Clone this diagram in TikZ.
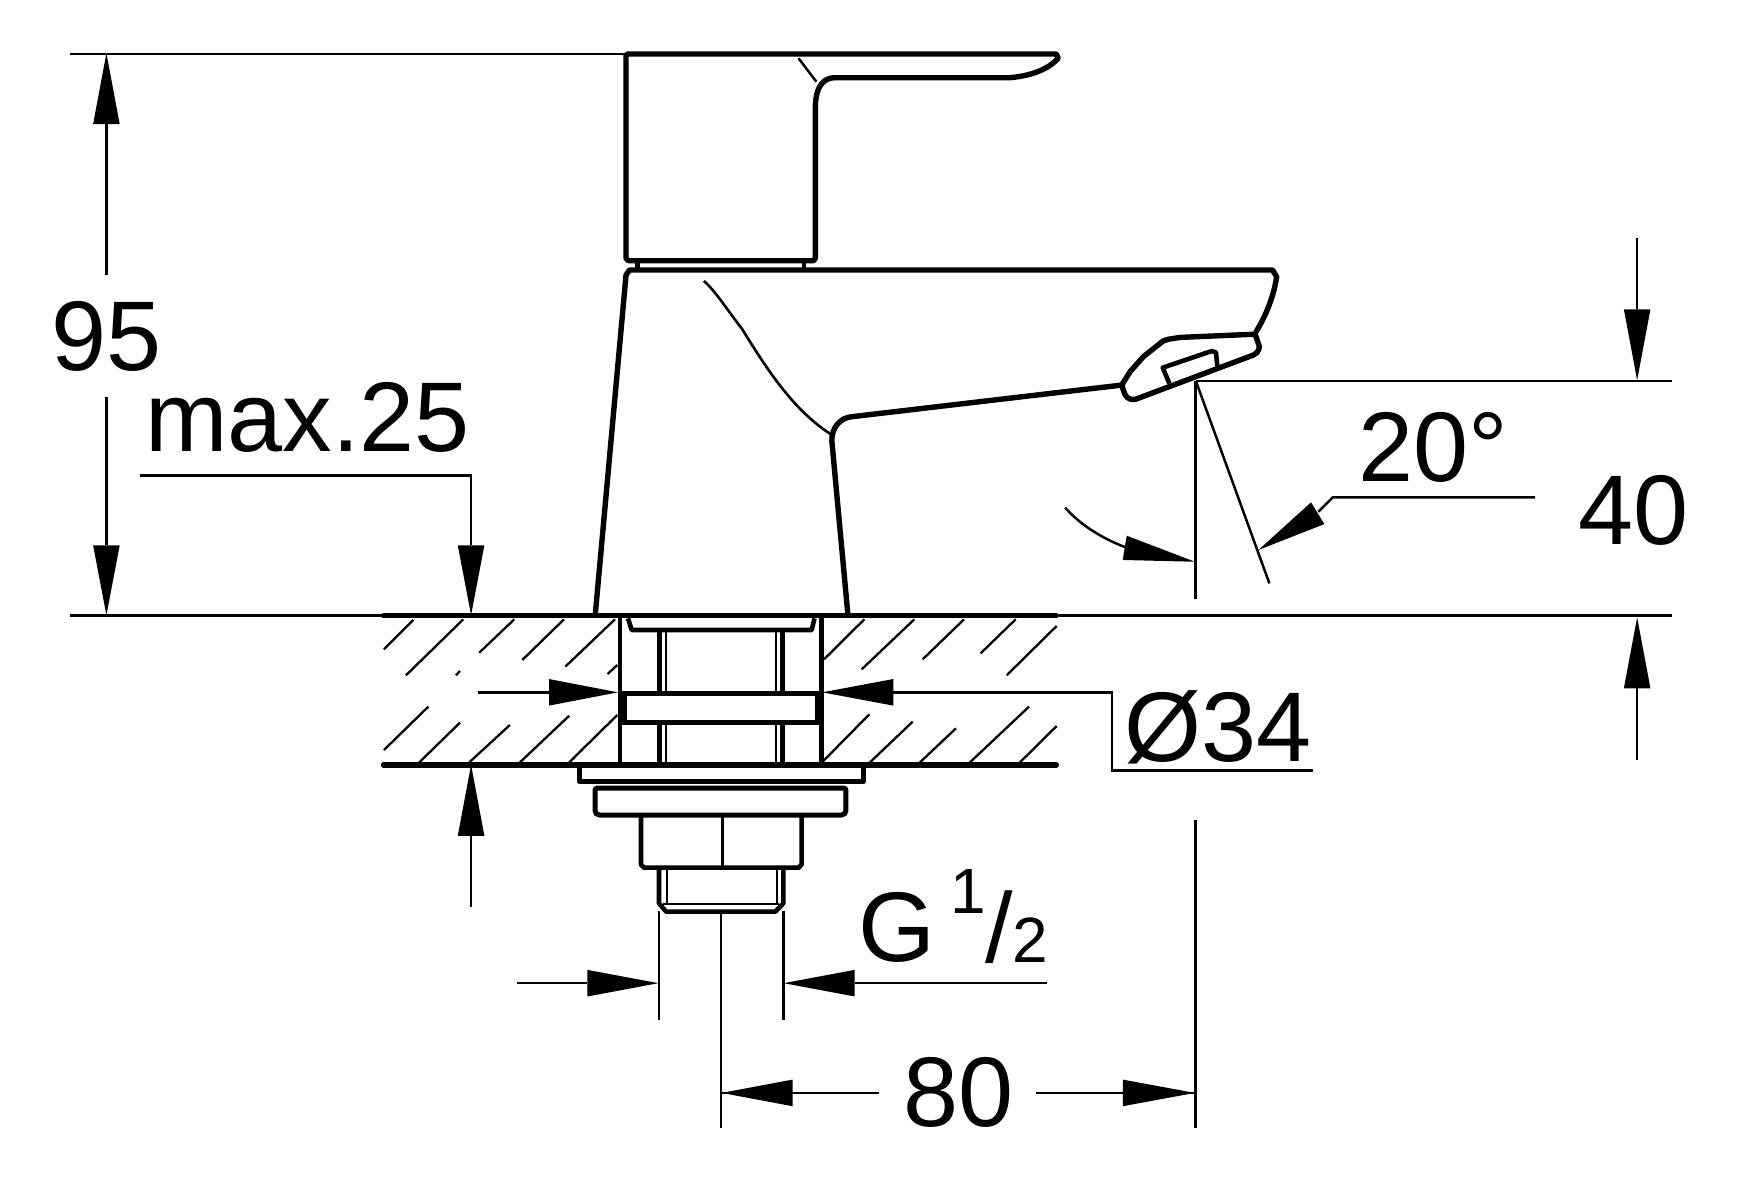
\documentclass[tikz,border=0pt]{standalone}
\usepackage{fontspec}
\setmainfont{Liberation Sans}
\newcommand{\arrV}[3]{\fill (#1,#2) -- ({#1-12},#3) -- ({#1+12},#3) -- cycle;}
\newcommand{\arrH}[3]{\fill (#2,#1) -- (#3,{#1-12}) -- (#3,{#1+12}) -- cycle;}
\newcommand{\bigfont}{\fontsize{99}{99}\selectfont}
\newcommand{\smallfont}{\fontsize{64}{64}\selectfont}
\tikzset{
  heavy/.style={line width=5.4pt,line join=round,line cap=round},
  medium/.style={line width=4.6pt,line join=round,line cap=butt},
  thin line/.style={line width=2.5pt,line join=miter},
  hatch line/.style={line width=2.3pt},
  label text/.style={inner sep=0pt,anchor=base west,font=\bigfont},
  small text/.style={inner sep=0pt,anchor=base west,font=\smallfont}
}
\begin{document}
\begin{tikzpicture}[x=1.1084pt,y=-1.1084pt]
\useasboundingbox (0,0) rectangle (1568,1070);
\fill[white] (0,0) rectangle (1568,1070);
% hatching
\foreach \a/\b/\c/\d in {12/148/100/60,78/226/250/58,298/158/403/58,427/180/552/58,556/200/705/58,683/222/712/195,228/226/240/213,
 12/450/145/320,118/487/240/368,268/487/390/375,420/487/568/347,568/487/712/345}
 \draw[hatch line] ({342.8+\a*0.3007},{541.3+\b*0.3007}) -- ({342.8+\c*0.3007},{541.3+\d*0.3007});
\foreach \a/\b/\c/\d in {12/178/133/58,125/208/283/58,308/178/432/58,482/160/587/58,560/226/710/78,
 10/483/148/343,150/487/278/365,300/487/408/385,450/487/627/320,600/487/710/378}
 \draw[hatch line] ({739.8+\a*0.3007},{541.3+\b*0.3007}) -- ({739.8+\c*0.3007},{541.3+\d*0.3007});
% extension and dimension lines
\draw[thin line] (63,48.5) -- (565,48.5);
\draw[thin line] (63,555.5) -- (346,555.5);
\draw[thin line] (955,555.5) -- (1508,555.5);
\draw[thin line] (1079,343.5) -- (1508,343.5);
\draw[thin line] (1078.4,344) -- (1078.4,540);
\draw[thin line] (1079,344) -- (1145.2,526.3);
\draw[thin line] (1189.4,461.6) -- (1202.3,448.7) -- (1385,448.7);
\draw[thin line] (961,458) .. controls (975,474) and (995,486) .. (1016,494);
\draw[thin line] (96,112) -- (96,248);
\draw[thin line] (96,358) -- (96,492);
\draw[thin line] (126,429) -- (425,429) -- (425,492);
\draw[thin line] (425,754) -- (425,818);
\draw[thin line] (1477,215) -- (1477,279);
\draw[thin line] (1477,621) -- (1477,686);
\draw[thin line] (431,624.6) -- (496,624.6);
\draw[thin line] (806,624.6) -- (1003,624.6) -- (1003,695) -- (1185,695);
\draw[thin line] (466,887) -- (530,887);
\draw[thin line] (771,887) -- (945,887);
\draw[thin line] (594.5,822) -- (594.5,920);
\draw[thin line] (706.7,822) -- (706.7,920);
\draw[thin line] (650.6,825) -- (650.6,1018);
\draw[thin line] (1078.4,740) -- (1078.4,1018);
\draw[thin line] (651,986) -- (793,986);
\draw[thin line] (935,986) -- (1078,986);
% arrowheads
\arrV{96}{48}{112}
\arrV{96}{555}{492}
\arrV{425}{555}{492}
\arrV{425}{690}{754}
\arrV{1477}{343}{279}
\arrV{1477}{557}{621}
\arrH{624.6}{557.5}{495.3}
\arrH{624.6}{741.8}{806}
\arrH{887}{594}{530}
\arrH{887}{707}{771}
\arrH{986}{651}{715}
\arrH{986}{1078}{1013}
\fill (1135.3,496.2) -- (1182.8,453.2) -- (1194.8,472.8) -- cycle;
\fill (1078.1,506.8) -- (1016.5,483.3) -- (1012.9,505.2) -- cycle;
% handle
\draw[heavy] (564.8,50) -- (566,48.7) -- (953,48.7) -- (954.7,52.6) .. controls (948,60) and (935,68) .. (911,70.1)
  -- (753,70.1) .. controls (743,70.1) and (736,78) .. (735.6,96) -- (735.6,233) -- (734,235.2) -- (567,235.2) -- (564.8,233) -- cycle;
\draw[thin line] (720.4,52.6) -- (736.5,73.7);
\draw[medium] (575.4,236) -- (575.4,243);
\draw[medium] (725.3,236) -- (725.3,243);
% spout and body
\draw[heavy] (537,555) -- (564.8,248) -- (568,243.6) -- (1148,243.6) -- (1151.8,249.6) .. controls (1150,262) and (1145,280) .. (1133.2,299.3);
\draw[heavy] (765,555) -- (750.5,398) .. controls (750,386) and (758,377) .. (768,376) -- (1012,347.4);
\draw[line width=2.6pt] (635,253.5) .. controls (645,262) and (655,278) .. (669.5,296.8) .. controls (690,330) and (715,370) .. (750,392);
% aerator
\draw[heavy] (1132.3,301.5) -- (1064.6,304.4) .. controls (1055,306) and (1050,306) .. (1046.6,309.8)
  -- (1031.5,321.8) -- (1019.5,335.4) -- (1012,347.4) -- (1013.5,352) .. controls (1015,358) and (1018,361) .. (1024,360.4)
  -- (1130.8,320.3) .. controls (1136,318) and (1137,313) .. (1135.3,309.8) -- (1132.3,301.5);
\draw[medium] (1055,346) -- (1049,331.7) -- (1093.2,316.7) -- (1097,318) -- (1098.3,330.5);
% counter top
\draw[heavy] (346,555.5) -- (953,555.5);
\draw[heavy] (346,690) -- (953,690);
% pipe
\draw[medium] (559.5,556) -- (559.5,690);
\draw[medium] (741,556) -- (741,690);
\draw[medium] (566.6,557.9) -- (569.9,568.4) -- (732.3,568.4) -- (734.8,557.9);
\draw[medium] (595,568) -- (595,627);
\draw[thin line] (601,568) -- (601,627);
\draw[thin line] (700,568) -- (700,627);
\draw[medium] (706,568) -- (706,627);
\draw[medium] (595,652) -- (595,690);
\draw[thin line] (601,652) -- (601,690);
\draw[thin line] (700,652) -- (700,690);
\draw[medium] (706,652) -- (706,690);
\draw[line width=4.8pt,fill=white] (563.7,626) rectangle (737,652);
% plate, flange, nut, bolt
\draw[medium] (522.6,690) -- (522.6,705.2) -- (778.8,705.2) -- (778.8,690);
\draw[line width=5pt,line join=round,rounded corners=2pt] (536.8,711) -- (536.8,733) -- (539,735.3) -- (761,735.3) -- (763.2,733) -- (763.2,711) -- cycle;
\draw[medium] (578.3,735) -- (578.3,780) -- (581,782.8) -- (720.5,782.8) -- (723.2,780) -- (723.2,735);
\draw[thin line] (651.6,735) -- (651.6,782);
\draw[medium] (594.5,783) -- (594.5,815) -- (601,822.5) -- (699.5,822.5) -- (706.7,815) -- (706.7,783);
\draw[line width=2pt] (601.4,783) -- (601.4,815);
\draw[line width=2pt] (700.7,783) -- (700.7,815);
\draw[line width=2pt] (598,815.6) -- (703,815.6);
% text
\node[label text] (t95) at (46,334) {95};
\node[label text] (tmax) at (131,407) {max.25};
\node[label text] (t20) at (1225,434) {20°};
\node[label text] (t40) at (1424,491) {40};
\node[label text] (t34) at (1014,687) {Ø34};
\node[label text] (tG) at (774,867) {G};
\node[small text] (t1) at (857,824) {1};
\node[label text] (tslash) at (888.7,868) {/};
\node[small text] (t2) at (913,868) {2};
\node[label text] (t80) at (815,1016) {80};
\end{tikzpicture}
\end{document}
